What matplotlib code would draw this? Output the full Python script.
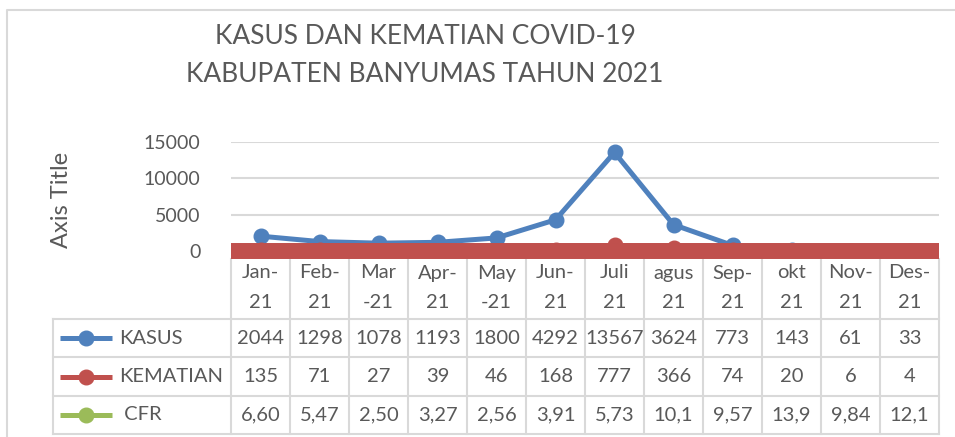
import matplotlib
matplotlib.use('Agg')
import matplotlib.pyplot as plt
import numpy as np

plt.rcParams['font.family'] = ['Lato', 'DejaVu Sans']

# data
months = ['Jan-\n21', 'Feb-\n21', 'Mar\n-21', 'Apr-\n21', 'May\n-21', 'Jun-\n21',
          'Juli\n21', 'agus\n21', 'Sep-\n21', 'okt\n21', 'Nov-\n21', 'Des-\n21']
kasus = [2044, 1298, 1078, 1193, 1800, 4292, 13567, 3624, 773, 143, 61, 33]
kematian = [135, 71, 27, 39, 46, 168, 777, 366, 74, 20, 6, 4]
cfr = [6.60, 5.47, 2.50, 3.27, 2.56, 3.91, 5.73, 10.1, 9.57, 13.9, 9.84, 12.1]
series_names = ['KASUS', 'KEMATIAN', ' CFR']
yticks = [0, 5000, 10000, 15000]

BLUE = '#4F81BD'
RED = '#C0504D'
GREEN = '#9BBB59'
TXT = '#595959'
GRID = '#D9D9D9'

W, H = 955, 437
fig = plt.figure(figsize=(W / 100, H / 100), dpi=100)


def fx(px):
    return px / W


def fy(py):
    return 1 - py / H


# plot area (pixel layout)
PL, PR, PT, PB = 231, 939, 142, 251
ax = fig.add_axes([fx(PL), fy(PB), fx(PR - PL), (PB - PT) / H])

x = np.arange(len(months))
ax.plot(x, kasus, color=BLUE, lw=3.6, marker='o', ms=10.5, zorder=2)
ax.plot(x, kematian, color=RED, lw=3.6, marker='o', ms=10.5, zorder=2)
ax.plot(x, cfr, color=GREEN, lw=3.6, marker='o', ms=10.5, zorder=2)

ax.set_xlim(-0.5, len(months) - 0.5)
ax.set_ylim(0, 15000)
ax.set_yticks(yticks)
ax.set_yticklabels([str(t) for t in yticks], fontsize=14, color=TXT)
ax.set_xticks([])
ax.tick_params(axis='y', length=0, pad=22)
ax.yaxis.grid(True, color=GRID, lw=1.5)
ax.set_axisbelow(True)
for s in ['top', 'right', 'left']:
    ax.spines[s].set_visible(False)
# thick red horizontal axis line as in the original
ax.spines['bottom'].set_color(RED)
ax.spines['bottom'].set_linewidth(11.5)
ax.spines['bottom'].set_capstyle('butt')
ax.spines['bottom'].set_zorder(3)
ax.patch.set_alpha(0)

# overlay in pixel coordinates for the data table and frame
lay = fig.add_axes([0, 0, 1, 1], zorder=-1)
lay.set_xlim(0, W)
lay.set_ylim(H, 0)
lay.axis('off')

# chart frame
lay.plot([7, 7, W], [H, 10, 10], color=GRID, lw=1.5)

fig.text(fx(425), fy(37), 'KASUS DAN KEMATIAN COVID-19', ha='center', va='center',
         fontsize=19, color=TXT)
fig.text(fx(425), fy(75), 'KABUPATEN BANYUMAS TAHUN 2021', ha='center', va='center',
         fontsize=19, color=TXT)
fig.text(fx(61), fy(200), 'Axis Title', rotation=90, ha='center', va='center',
         fontsize=17, color=TXT)

colw = (PR - PL) / len(months)
TL = 53
head_top, head_bot = 259, 319
row_h = (434 - head_bot) / 3

# vertical grid lines
for i in range(len(months) + 1):
    xx = PL + i * colw
    lay.plot([xx, xx], [head_top, 434], color=GRID, lw=1.5)
lay.plot([TL, TL], [head_bot, 434], color=GRID, lw=1.5)
for r in range(4):
    yy = head_bot + r * row_h
    lay.plot([TL, PR], [yy, yy], color=GRID, lw=1.5)

# category labels
for i, m in enumerate(months):
    cx = PL + (i + 0.5) * colw
    top, bot = m.split('\n')
    lay.text(cx, 273, top, ha='center', va='center', fontsize=14.5, color=TXT)
    lay.text(cx, 302, bot, ha='center', va='center', fontsize=14.5, color=TXT)


def fmt_cfr(v):
    s = '%.2f' % v if v < 10 else '%.1f' % v
    return s.replace('.', ',')


rows = [
    (series_names[0], BLUE, [str(v) for v in kasus]),
    (series_names[1], RED, [str(v) for v in kematian]),
    (series_names[2], GREEN, [fmt_cfr(v) for v in cfr]),
]
for r, (name, col, vals) in enumerate(rows):
    cy = head_bot + (r + 0.5) * row_h
    lay.plot([60, 112], [cy, cy], color=col, lw=3.6, solid_capstyle='butt')
    lay.plot([86], [cy], 'o', color=col, ms=10.5)
    lay.text(119, cy, name, ha='left', va='center', fontsize=14.5, color=TXT)
    for i, v in enumerate(vals):
        cx = PL + (i + 0.5) * colw
        lay.text(cx, cy, v, ha='center', va='center', fontsize=14.5, color=TXT)

fig.savefig('out.png', dpi=100)
